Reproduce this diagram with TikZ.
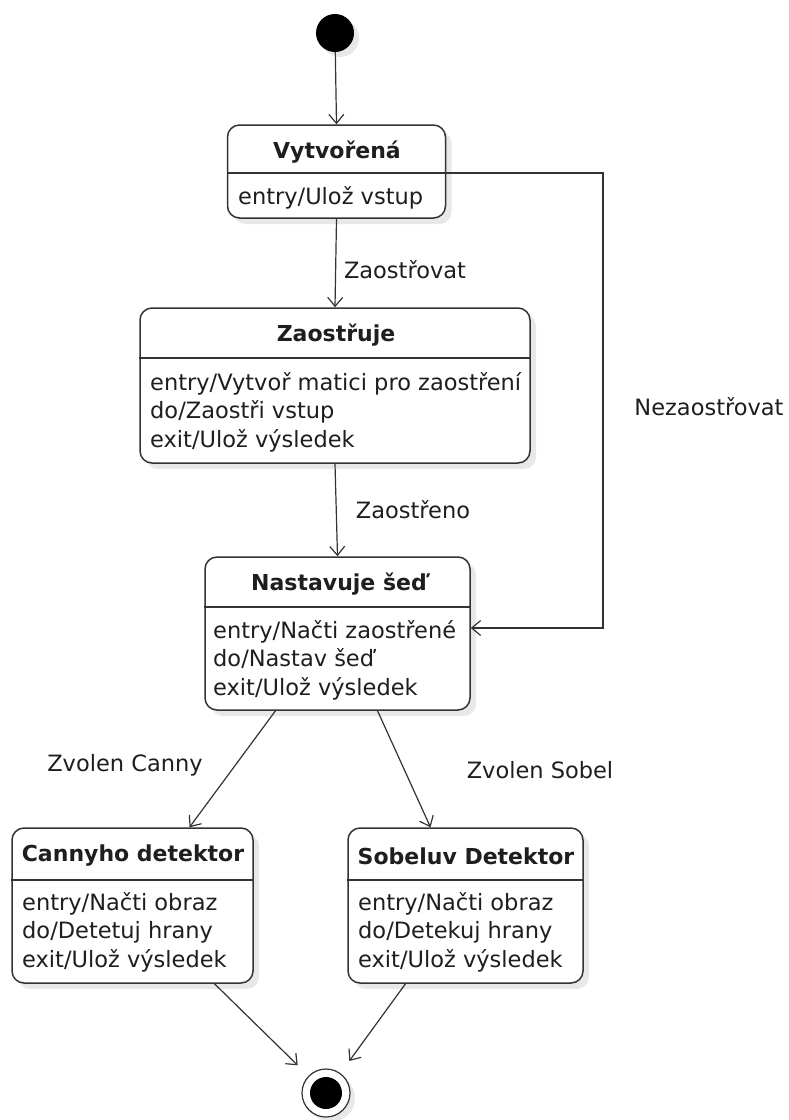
\documentclass[tikz,border=0pt]{standalone}
\usepackage{fontspec}
\setmainfont{DejaVu Sans}
\usetikzlibrary{arrows.meta,shadows,calc}
\definecolor{edge}{HTML}{333333}
\definecolor{ink}{HTML}{1E1E1E}
\begin{document}
\begin{tikzpicture}[x=1pt,y=-1pt,
  state/.style={draw=edge, line width=1.5pt, rounded corners=12pt, fill=white,
    drop shadow={shadow xshift=6pt, shadow yshift=-6pt, fill=black!9, opacity=1},
    inner sep=0pt},
  sepline/.style={draw=edge, line width=1.5pt},
  title/.style={font=\fontsize{22}{24}\selectfont\bfseries, text=ink, inner sep=0pt},
  body/.style={font=\fontsize{22.5}{28.5}\selectfont, text=ink, align=left, anchor=north west, inner sep=0pt},
  lbl/.style={font=\fontsize{22.5}{26}\selectfont, text=ink, inner sep=0pt},
  flow/.style={draw=edge, line width=1.2pt, -{Straight Barb[length=9pt,width=15pt,line width=1.2pt]}},
  pseudo/.style={circle, fill=black, inner sep=0pt},
]
\useasboundingbox (0,0) rectangle (788,1120);

% initial pseudo-state
\node[pseudo, minimum size=38pt, drop shadow={shadow xshift=5pt, shadow yshift=-5pt, fill=black!9, opacity=1}] (init) at (335,33) {};

% Vytvořená
\node[state, minimum width=218pt, minimum height=93pt] (v) at (336.5,171.5) {};
\coordinate (vs) at (336.5,173);
\draw[sepline] (v.west |- vs) -- (v.east |- vs);
\node[title] (vt) at (337,152) {Vytvořená};
\node[body] (vb) at (238,186) {entry/Ulož vstup};

% Zaostřuje
\node[state, minimum width=390pt, minimum height=155pt] (z) at (335,385.5) {};
\coordinate (zs) at (335,358);
\draw[sepline] (z.west |- zs) -- (z.east |- zs);
\node[title] (zt) at (336,335) {Zaostřuje};
\node[body] (zb) at (150,372) {entry/Vytvoř matici pro zaostření\\do/Zaostři vstup\\exit/Ulož výsledek};

% Nastavuje šeď
\node[state, minimum width=265pt, minimum height=153pt] (n) at (337.5,633.5) {};
\coordinate (ns) at (337.5,607);
\draw[sepline] (n.west |- ns) -- (n.east |- ns);
\node[title] (nt) at (339,584) {Nastavuje šeď};
\node[body] (nb) at (213,620) {entry/Načti zaostřené\\do/Nastav šeď\\exit/Ulož výsledek};

% Cannyho detektor
\node[state, minimum width=241pt, minimum height=155pt] (c) at (132.5,905.5) {};
\coordinate (cs) at (132.5,880);
\draw[sepline] (c.west |- cs) -- (c.east |- cs);
\node[title] (ct) at (133,856) {Cannyho detektor};
\node[body] (cb) at (22,892) {entry/Načti obraz\\do/Detetuj hrany\\exit/Ulož výsledek};

% Sobeluv Detektor
\node[state, minimum width=235pt, minimum height=155pt] (s) at (465.5,905.5) {};
\coordinate (ss) at (465.5,880);
\draw[sepline] (s.west |- ss) -- (s.east |- ss);
\node[title] (st) at (466,856) {Sobeluv Detektor};
\node[body] (sb) at (358,892) {entry/Načti obraz\\do/Detekuj hrany\\exit/Ulož výsledek};

% final pseudo-state
\node[circle, draw=edge, line width=1.2pt, fill=white, minimum size=48pt, inner sep=0pt,
  drop shadow={shadow xshift=5pt, shadow yshift=-5pt, fill=black!9, opacity=1}] (f) at (326,1093) {};
\node[pseudo, minimum size=32pt] (fi) at (f) {};

% transitions
\draw[flow] (init) -- (v.north);
\draw[flow] (v.south) -- (z.north);
\node[lbl] (l1) at (405,270) {Zaostřovat};
\draw[flow] (z.south) -- (n.north);
\node[lbl] (l2) at (413,510) {Zaostřeno};

\coordinate (bend) at (603,628);
\draw[flow] (v.east |- vs) -| (bend) -- (n.east |- bend);
\node[lbl] (l3) at (709,407) {Nezaostřovat};

\draw[flow] ($(n.south)+(-62,0)$) -- ($(c.north)+(57,0)$);
\node[lbl] (l4) at (125,765) {Zvolen Canny};
\draw[flow] ($(n.south)+(40,0)$) -- ($(s.north)+(-35,0)$);
\node[lbl] (l5) at (540,770) {Zvolen Sobel};

\draw[flow, shorten >=15pt] ($(c.south)+(82,0)$) -- (f);
\draw[flow, shorten >=15pt] ($(s.south)+(-60,0)$) -- (f);
\end{tikzpicture}
\end{document}
